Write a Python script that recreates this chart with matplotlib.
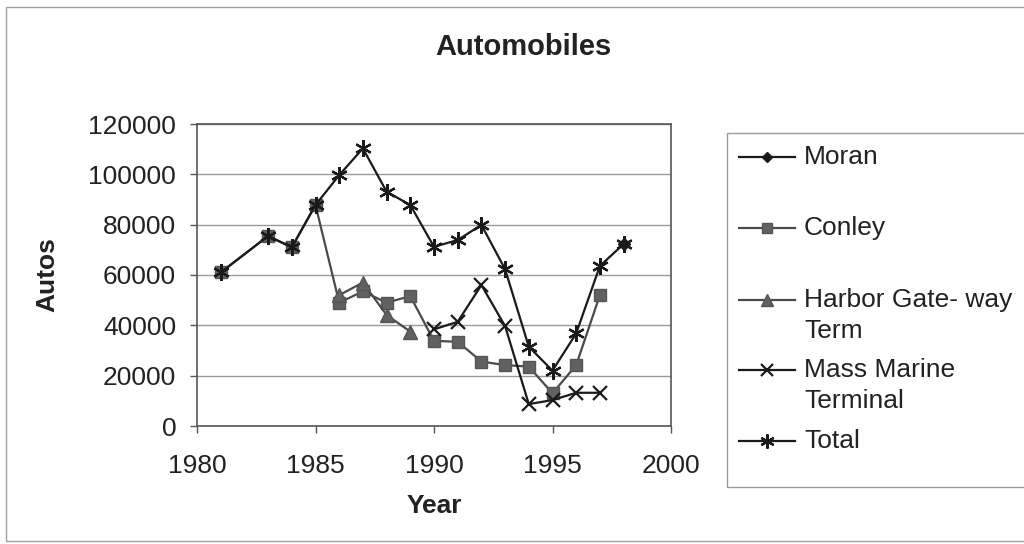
import matplotlib
matplotlib.use("Agg")
import matplotlib.pyplot as plt
from matplotlib.lines import Line2D
from matplotlib.patches import Rectangle

plt.rcParams['font.family'] = ['Liberation Sans', 'DejaVu Sans']

# ---- data -------------------------------------------------------------
moran_years = [1998]
moran_autos = [72300]

conley_years = [1981, 1983, 1984, 1985, 1986, 1987, 1988, 1989, 1990,
                1991, 1992, 1993, 1994, 1995, 1996, 1997]
conley_autos = [61000, 75500, 71000, 87800, 49000, 53500, 49000, 51600, 33800,
                33500, 25600, 24200, 23600, 13000, 24200, 52000]

harbor_years = [1986, 1987, 1988, 1989]
harbor_autos = [52000, 57000, 44100, 37500]

mass_years = [1990, 1991, 1992, 1993, 1994, 1995, 1996, 1997]
mass_autos = [38400, 41400, 56000, 39700, 8700, 10300, 13200, 13200]

total_years = [1981, 1983, 1984, 1985, 1986, 1987, 1988, 1989, 1990,
               1991, 1992, 1993, 1994, 1995, 1996, 1997, 1998]
total_autos = [61000, 75500, 71000, 87800, 99700, 110300, 93100, 87800, 71200,
               73900, 79900, 62300, 31500, 22000, 36800, 63600, 72300]

x_ticks = [1980, 1985, 1990, 1995, 2000]
y_ticks = [0, 20000, 40000, 60000, 80000, 100000, 120000]

# ---- styling ----------------------------------------------------------
W, H = 1024, 544
series = [
    ("Moran", moran_years, moran_autos,
     dict(color="#1a1a1a", marker="D", ms=6, mfc="#1a1a1a", mec="#1a1a1a")),
    ("Conley", conley_years, conley_autos,
     dict(color="#4a4a4a", marker="s", ms=8.5, mfc="#616161", mec="#555555")),
    ("Harbor Gate- way\nTerm", harbor_years, harbor_autos,
     dict(color="#4a4a4a", marker="^", ms=9.5, mfc="#616161", mec="#555555")),
    ("Mass Marine\nTerminal", mass_years, mass_autos,
     dict(color="#1a1a1a", marker="x", ms=10, mew=1.6)),
    ("Total", total_years, total_autos,
     dict(color="#1a1a1a", marker=(6, 2, 0), ms=12, mew=1.6)),
]

fig = plt.figure(figsize=(W / 100, H / 100), dpi=100)
fig.patch.set_facecolor("white")


def fx(px):
    return px / W


def fy(py):
    return 1 - py / H


# outer chart border
fig.add_artist(Rectangle((fx(6), fy(541)), fx(1040) - fx(6), fy(7) - fy(541),
                         transform=fig.transFigure, fill=False,
                         edgecolor="#a0a0a0", lw=1.0))

ax = fig.add_axes([fx(197), fy(426), fx(671) - fx(197), fy(124) - fy(426)])

for label, xs, ys, st in series:
    ax.plot(xs, ys, lw=1.6, label=label, **st)

ax.set_xlim(1980, 2000)
ax.set_ylim(0, 120000)
ax.set_xticks(x_ticks)
ax.set_yticks(y_ticks)
ax.set_xticklabels([str(v) for v in x_ticks])
ax.set_yticklabels([str(v) for v in y_ticks])
ax.tick_params(axis="both", direction="out", length=5, width=1,
               color="#555555", labelsize=19, labelcolor="#222222")
ax.tick_params(axis="x", pad=15)
ax.tick_params(axis="y", pad=10)
ax.grid(axis="y", color="#9a9a9a", lw=1.0)
ax.set_axisbelow(True)
for sp in ax.spines.values():
    sp.set_color("#555555")
    sp.set_linewidth(1.2)

fig.text(fx(523), fy(47), "Automobiles", ha="center", va="center",
         fontsize=21, fontweight="bold", color="#222222")
fig.text(fx(47), fy(275), "Autos", ha="center", va="center", rotation=90,
         fontsize=19, fontweight="bold", color="#222222")
fig.text(fx(434), fy(506), "Year", ha="center", va="center",
         fontsize=19, fontweight="bold", color="#222222")

# ---- legend -----------------------------------------------------------
fig.add_artist(Rectangle((fx(727), fy(487)), fx(1040) - fx(727), fy(133) - fy(487),
                         transform=fig.transFigure, fill=True, facecolor="white",
                         edgecolor="#9a9a9a", lw=1.0))
legend_rows = [157, 228, 300, 370, 441]
for (label, xs, ys, st), yy in zip(series, legend_rows):
    fig.add_artist(Line2D([fx(739), fx(795)], [fy(yy), fy(yy)],
                          transform=fig.transFigure, lw=1.6, color=st["color"]))
    mk = {k: v for k, v in st.items() if k != "color"}
    mk["ms"] = mk["ms"] * 0.85
    fig.add_artist(Line2D([fx(767)], [fy(yy)], transform=fig.transFigure,
                          lw=0, color=st["color"], **mk))
    lines = label.split("\n")
    for i, line in enumerate(lines):
        fig.text(fx(804), fy(yy + i * 31), line, ha="left", va="center",
                 fontsize=19, color="#222222")

fig.savefig("out.png", dpi=100, facecolor="white")
